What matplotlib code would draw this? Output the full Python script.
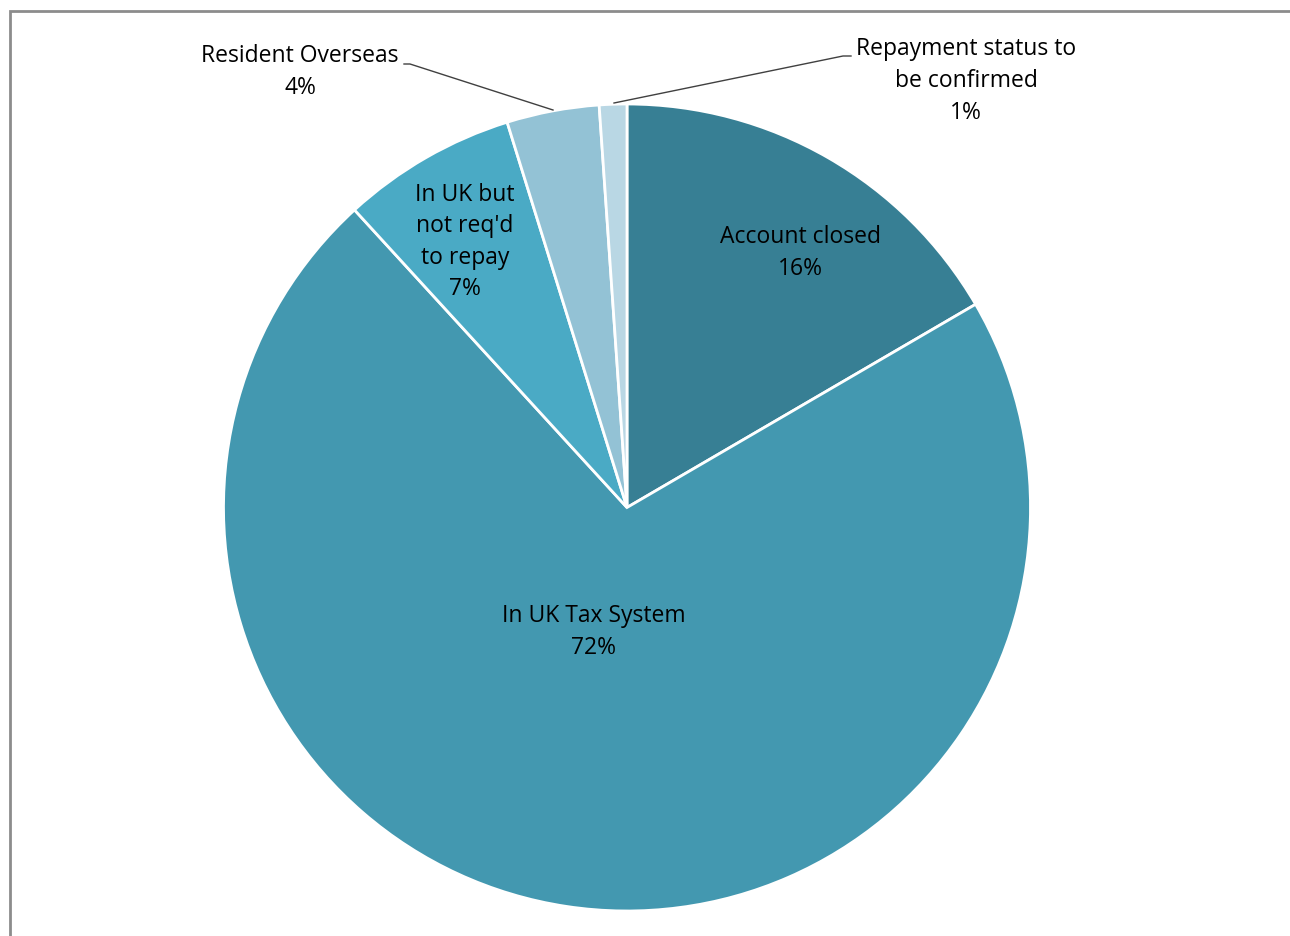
import matplotlib.pyplot as plt
from matplotlib.patches import Rectangle

# Data
labels = ["Account closed", "In UK Tax System", "In UK but\nnot req'd\nto repay",
          "Resident Overseas", "Repayment status to\nbe confirmed"]
shares = [16.6, 71.6, 7.0, 3.7, 1.1]
pct_text = ["16%", "72%", "7%", "4%", "1%"]
colors = ["#377f94", "#4398b0", "#4aaac5", "#93c2d5", "#b9d7e4"]

W, H = 1290, 936
plt.rcParams["font.family"] = ["Open Sans", "DejaVu Sans"]

fig = plt.figure(figsize=(W / 100, H / 100), dpi=100)
ax = fig.add_axes([0, 0, 1, 1])

cx, cy, r = 627, H - 507.5, 403.5
ax.pie(shares, colors=colors, startangle=90, counterclock=False,
       center=(cx, cy), radius=r, frame=True,
       wedgeprops=dict(edgecolor="white", linewidth=2))
ax.set_xlim(0, W)
ax.set_ylim(0, H)
ax.axis("off")

fs = 16.5
ls = 1.42
# labels inside slices
inside = {0: (800, 253), 1: (594, 632), 2: (465, 242)}
for i, (x, y) in inside.items():
    ax.text(x, H - y, labels[i] + "\n" + pct_text[i], ha="center", va="center",
            fontsize=fs, color="black", linespacing=ls)

# outside labels with leader lines
ax.text(300, H - 72, labels[3] + "\n" + pct_text[3], ha="center", va="center",
        fontsize=fs, linespacing=ls)
ax.plot([404, 410, 553], [H - 64, H - 64, H - 110], color="#404040", lw=1)

ax.text(966, H - 81, labels[4] + "\n" + pct_text[4], ha="center", va="center",
        fontsize=fs, linespacing=ls)
ax.plot([851, 843, 614], [H - 56, H - 56, H - 103], color="#404040", lw=1)

# chart border
fig.patches.append(Rectangle((10 / W, -0.05), 1.1, (H - 11) / H + 0.05,
                             transform=fig.transFigure, fill=False,
                             edgecolor="#8c8c8c", linewidth=2))

fig.savefig("out.png", dpi=100)
